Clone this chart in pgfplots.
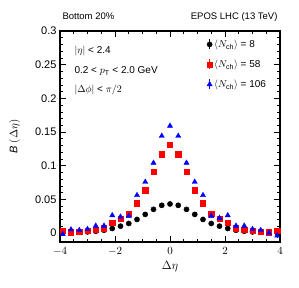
\documentclass[border=0pt]{standalone}
\usepackage{pgfplots}
\pgfplotsset{compat=1.18}
\usepackage{fontspec}
\setmainfont{Liberation Sans}
\begin{document}
\begin{tikzpicture}[x=1pt,y=1pt]
\begin{axis}[
  at={(0,0)}, anchor=south west,
  scale only axis, width=220pt, height=211pt,
  xmin=-4, xmax=4, ymin=-0.0135, ymax=0.3,
  xtick={-4,-2,0,2,4}, minor x tick num=3,
  ytick={0,0.05,0.1,0.15,0.2,0.25,0.3}, minor y tick num=4,
  yticklabels={0,0.05,0.1,0.15,0.2,0.25,0.3},
  tick align=inside, tick pos=both,
  major tick length=6pt, minor tick length=3pt,
  every tick/.style={black, line width=0.5pt},
  axis line style={line width=1.2pt},
  ticklabel style={font=\fontsize{11}{13}\selectfont},
  xticklabel style={yshift=-2pt},
  xlabel={$\Delta\eta$}, ylabel={\textit{B} $(\Delta\eta)$},
  xlabel style={font=\fontsize{12}{14}\selectfont, yshift=1pt},
  ylabel style={font=\fontsize{11}{13}\selectfont, yshift=8pt},
  legend style={draw=none, fill=none, at={(axis cs:1.23,0.293)}, anchor=north west,
    font=\fontsize{10}{12}\selectfont, row sep=7pt, legend cell align=left},
  legend image code/.code={\draw[#1, line width=0.8pt] (0.3cm,-5pt) -- (0.3cm,5pt); \draw[#1] plot coordinates {(0.3cm,0cm)};},
  clip=false,
]
\addplot[only marks, mark=*, mark size=2.6pt, black] coordinates {
(-3.9,0.0003)(-3.6,0.0005)(-3.3,0.001)(-3.0,0.0015)(-2.7,0.0025)(-2.4,0.004)(-2.1,0.0066)(-1.8,0.010)(-1.5,0.014)(-1.2,0.020)(-0.9,0.0275)(-0.6,0.035)(-0.3,0.041)(0,0.043)
(0.3,0.041)(0.6,0.035)(0.9,0.0275)(1.2,0.020)(1.5,0.014)(1.8,0.010)(2.1,0.0066)(2.4,0.004)(2.7,0.0025)(3.0,0.0015)(3.3,0.001)(3.6,0.0005)(3.9,0.0003)};
\addlegendentry{$\langle N_{\mathrm{ch}}\rangle$ = 8}
\addplot[only marks, mark=square*, mark size=2.6pt, red] coordinates {
(-3.9,0.003)(-3.6,0.001)(-3.3,0.002)(-3.0,0.003)(-2.7,0.005)(-2.4,0.007)(-2.1,0.0155)(-1.8,0.0215)(-1.5,0.029)(-1.2,0.044)(-0.9,0.0635)(-0.6,0.091)(-0.3,0.117)(0,0.131)
(0.3,0.117)(0.6,0.091)(0.9,0.0635)(1.2,0.044)(1.5,0.029)(1.8,0.0215)(2.1,0.0155)(2.4,0.007)(2.7,0.005)(3.0,0.003)(3.3,0.002)(3.6,0.001)(3.9,0.003)};
\addlegendentry{$\langle N_{\mathrm{ch}}\rangle$ = 58}
\addplot[only marks, mark=triangle*, mark size=3pt, blue,
  error bars/.cd, y dir=both, y explicit, error bar style={line width=0.8pt}, error mark=none] coordinates {
(-3.9,-0.002) +- (0,0.003)(-3.6,0.005)(-3.3,0.004)(-3.0,0.0055)(-2.7,0.0105)(-2.4,0.0105)(-2.1,0.026)(-1.8,0.024)(-1.5,0.025)(-1.2,0.056)(-0.9,0.0757)(-0.6,0.104)(-0.3,0.144)(0,0.159)
(0.3,0.144)(0.6,0.104)(0.9,0.0757)(1.2,0.056)(1.5,0.025)(1.8,0.022)(2.1,0.026)(2.4,0.0105)(2.7,0.0105)(3.0,0.0055)(3.3,0.004)(3.6,0.000)(3.9,-0.004) +- (0,0.003)};
\addlegendentry{$\langle N_{\mathrm{ch}}\rangle$ = 106}
\node[anchor=west, font=\fontsize{10}{12}\selectfont] at (axis cs:-3.6,0.270) {$|\eta|$ < 2.4};
\node[anchor=west, font=\fontsize{10}{12}\selectfont] at (axis cs:-3.6,0.240) {0.2 < $p_{\mathrm{T}}$ < 2.0 GeV};
\node[anchor=west, font=\fontsize{10}{12}\selectfont] at (axis cs:-3.6,0.213) {$|\Delta\phi|$ < $\pi/2$};
\end{axis}
\node[anchor=base west, font=\fontsize{9.5}{11}\selectfont] at (-1,222) {Bottom 20\%};
\node[anchor=base east, font=\fontsize{9.5}{11}\selectfont] at (221,222) {EPOS LHC (13 TeV)};
\pgfresetboundingbox
\path[use as bounding box] (-60,-46) rectangle (239,242);
\end{tikzpicture}
\end{document}
